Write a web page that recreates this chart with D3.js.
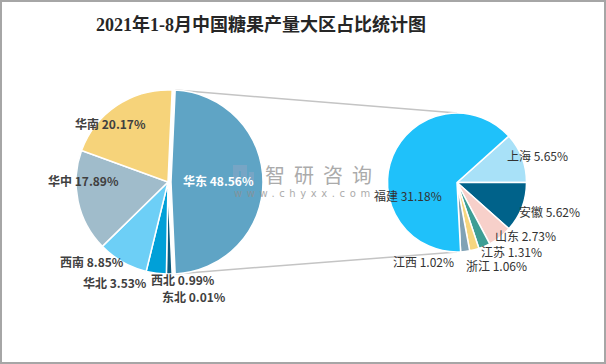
<!DOCTYPE html>
<html><head><meta charset="utf-8">
<script src="https://cdn.jsdelivr.net/npm/d3@7"></script>
<style>body{margin:0;background:#fff}svg{display:block}</style>
</head><body><svg id="c" width="606" height="364"></svg>
<script>
// ---- data ----
const title = "2021年1-8月中国糖果产量大区占比统计图";
const leftCategories = ["华东","东北","西北","华北","西南","华中","华南"];
const leftValues     = [48.56, 0.01, 0.99, 3.53, 8.85, 17.89, 20.17];
const rightCategories = ["上海","安徽","山东","江苏","浙江","江西","福建"];
const rightValues     = [5.65, 5.62, 2.73, 1.31, 1.06, 1.02, 31.18];

// ---- styles / layout ----
const leftColors  = ["#5fa4c5","#0b3d57","#0c5b7d","#00a0d8","#6dcff6","#a0bccb","#f6d37a"];
const rightColors = ["#a8e1f8","#00628a","#f7d0ca","#3d9e95","#f6d67f","#80a2b5","#1fc1fa"];
const leftLabelPos = {"华东":[183,182],"华南":[75,125],"华中":[48,182],"西南":[60,263],"华北":[83,284],"西北":[151,281],"东北":[162,298]};
const rightLabelPos = {"上海":[507,157],"福建":[374,197],"安徽":[519,213],"山东":[495,237],"江苏":[481,253],"浙江":[466,267],"江西":[393,263]};

const svg = d3.select("#c");
svg.append("rect").attr("x",1).attr("y",1).attr("width",604).attr("height",362)
  .attr("fill","#fff").attr("stroke","#a6a6a6").attr("stroke-width",2);

svg.append("text").attr("x",261).attr("y",25).attr("text-anchor","middle")
  .attr("dominant-baseline","central")
  .attr("font-family","'Liberation Serif','Noto Sans CJK SC',serif")
  .attr("font-size",18).attr("font-weight","bold").attr("fill","#262626").text(title);

const L = {cx:168, cy:182, r:92, explode:3};
const R = {cx:457, cy:182.5, r:69.5};

// left pie: first slice (split) centred on the right
const lTotal = d3.sum(leftValues);
const lStart = Math.PI/2 - (leftValues[0]/lTotal)*Math.PI;
const lPie = d3.pie().sort(null).startAngle(lStart).endAngle(lStart+2*Math.PI);
const lArcs = lPie(leftValues);
const lArc = d3.arc().innerRadius(0).outerRadius(L.r);

// right pie: boundary between first and second slice at 3 o'clock
const rTotal = d3.sum(rightValues);
const rStart = Math.PI/2 - (rightValues[0]/rTotal)*2*Math.PI;
const rPie = d3.pie().sort(null).startAngle(rStart).endAngle(rStart+2*Math.PI);
const rArcs = rPie(rightValues);
const rArc = d3.arc().innerRadius(0).outerRadius(R.r);

// connector lines
const a0 = lArcs[0].startAngle, a1 = lArcs[0].endAngle;
const ex = L.cx + L.explode;
const p1 = [ex + L.r*Math.sin(a0), L.cy - L.r*Math.cos(a0)];
const p2 = [ex + L.r*Math.sin(a1), L.cy - L.r*Math.cos(a1)];
svg.append("line").attr("x1",p1[0]).attr("y1",p1[1]).attr("x2",R.cx).attr("y2",R.cy-R.r)
  .attr("stroke","#c4c4c4").attr("stroke-width",1.5);
svg.append("line").attr("x1",p2[0]).attr("y1",p2[1]).attr("x2",R.cx).attr("y2",R.cy+R.r)
  .attr("stroke","#c4c4c4").attr("stroke-width",1.5);

const gl = svg.append("g").attr("transform",`translate(${L.cx},${L.cy})`);
gl.selectAll("path").data(lArcs).join("path")
  .attr("d",lArc)
  .attr("transform",(d,i)=> i===0 ? `translate(${L.explode},0)` : null)
  .attr("fill",(d,i)=>leftColors[i]).attr("stroke","#fff").attr("stroke-width",1.5);

const gr = svg.append("g").attr("transform",`translate(${R.cx},${R.cy})`);
gr.selectAll("path").data(rArcs).join("path")
  .attr("d",rArc)
  .attr("fill",(d,i)=>rightColors[i]).attr("stroke","#fff").attr("stroke-width",1.5);

// watermark
const wm = svg.append("g").attr("opacity",0.75);
wm.append("rect").attr("x",233).attr("y",165).attr("width",6).attr("height",20).attr("fill","#7fa6c6");
wm.append("rect").attr("x",233).attr("y",165).attr("width",14).attr("height",6).attr("fill","#7fa6c6");
wm.append("rect").attr("x",241).attr("y",165).attr("width",6).attr("height",12).attr("fill","#7fa6c6");
wm.append("rect").attr("x",249).attr("y",172).attr("width",5).attr("height",13).attr("fill","#7fa6c6");
wm.append("text").attr("x",265).attr("y",183).attr("font-family","'Noto Sans CJK SC'")
  .attr("font-size",20).attr("letter-spacing",9).attr("fill","#8f8f8f").text("智研咨询");
wm.append("text").attr("x",234).attr("y",197).attr("font-family","'DejaVu Sans'")
  .attr("font-size",10).attr("letter-spacing",4.6).attr("fill","#8f8f8f").text("www.chyxx.com");

// labels
const font = "'Noto Sans CJK SC','Noto Sans',sans-serif";
svg.append("g").selectAll("text").data(leftCategories).join("text")
  .attr("x",d=>leftLabelPos[d][0]).attr("y",d=>leftLabelPos[d][1]).attr("dy","0.35em")
  .attr("font-family",font).attr("font-size",12).attr("font-weight","bold")
  .attr("fill",(d,i)=> i===0 ? "#fff" : "#404040")
  .text((d,i)=>`${d} ${leftValues[i].toFixed(2)}%`);
svg.append("g").selectAll("text").data(rightCategories).join("text")
  .attr("x",d=>rightLabelPos[d][0]).attr("y",d=>rightLabelPos[d][1]).attr("dy","0.35em")
  .attr("font-family",font).attr("font-size",12)
  .attr("fill","#333")
  .text((d,i)=>`${d} ${rightValues[i].toFixed(2)}%`);
</script></body></html>
